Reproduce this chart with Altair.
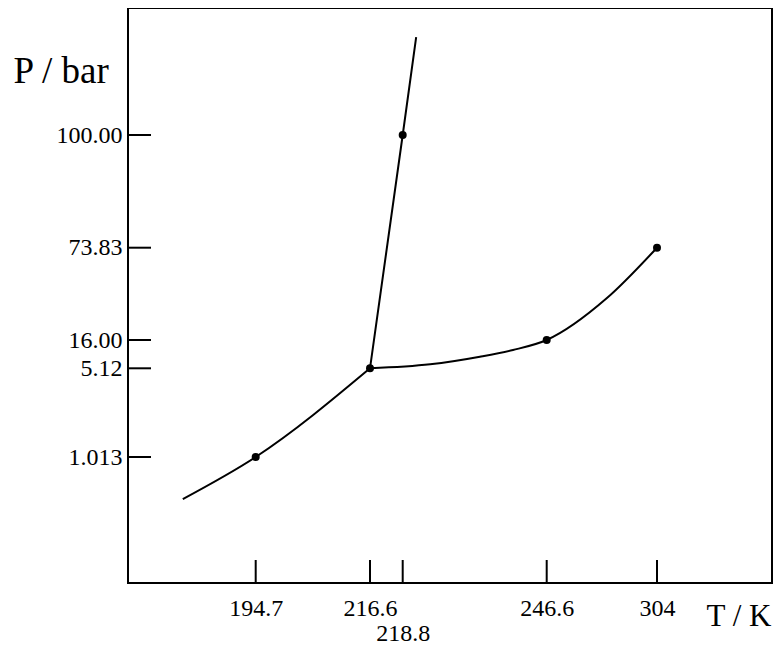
import altair as alt
import pandas as pd

# ---- data (T in K, P in bar) ----
T_ticks = [194.7, 216.6, 218.8, 246.6, 304]
T_tick_labels = ["194.7", "216.6", "218.8", "246.6", "304"]
P_ticks = [1.013, 5.12, 16.00, 73.83, 100.00]
P_tick_labels = ["1.013", "5.12", "16.00", "73.83", "100.00"]

# schematic (piecewise) axes: breakpoints of the drawn scale
T_domain = [170, 194.7, 216.6, 218.8, 246.6, 304, 330]
T_range = [0, 127.7, 242, 274.7, 418.7, 529, 644]
P_domain = [0, 1.013, 5.12, 16, 73.83, 100, 200]
P_range = [575, 449, 360.3, 332, 239.7, 127, 0]

# sublimation curve
sub_T = [180.6, 194.7, 216.6]
sub_P = [0.675, 1.013, 5.12]
# melting curve
melt_T = [216.6, 218.8, 221.4]
melt_P = [5.12, 100.0, 177.0]
# vaporisation curve
vap_T = [216.6, 224.1, 233.7, 240.1, 246.6, 277.8, 304]
vap_P = [5.12, 6.66, 9.58, 12.16, 16.0, 42.1, 73.83]
# marked points
pt_T = [194.7, 216.6, 218.8, 246.6, 304]
pt_P = [1.013, 5.12, 100.0, 16.0, 73.83]

W, H = 644, 575
FONT = "Liberation Serif"

xs = alt.Scale(domain=T_domain, range=T_range, nice=False, zero=False)
ys = alt.Scale(domain=P_domain, range=P_range, nice=False, zero=False)

y_expr = " : ".join(
    [f"datum.value == {v} ? '{l}'" for v, l in zip(P_ticks, P_tick_labels)]
) + " : datum.label"
x_expr = " : ".join(
    [f"datum.value == {v} ? " + (f"['', '{l}']" if l == "218.8" else f"'{l}'")
     for v, l in zip(T_ticks, T_tick_labels)]
) + " : datum.label"

xaxis = alt.Axis(
    values=T_ticks, ticks=False, domain=False, grid=False, tickSize=0,
    labelFont=FONT, labelColor="black",
    labelFontSize=24, labelPadding=32, labelBaseline="alphabetic",
    labelLineHeight=25, labelOverlap=False, labelFlush=False, labelBound=False,
    labelExpr=x_expr,
    title="T / K", titleFont=FONT, titleColor="black", titleFontWeight="normal",
    titleFontSize=31, titleAlign="left", titleBaseline="alphabetic",
    titleX=578, titleY=42, titleAngle=0,
)
yaxis = alt.Axis(
    values=P_ticks, ticks=False, domain=False, grid=False, tickSize=0,
    labelFont=FONT, labelColor="black",
    labelFontSize=24, labelPadding=6, labelBaseline="middle",
    labelOverlap=False, labelFlush=False, labelBound=False,
    labelExpr=y_expr,
    title="P / bar", titleFont=FONT, titleColor="black", titleFontWeight="normal",
    titleFontSize=37, titleAlign="left", titleBaseline="alphabetic",
    titleX=-115, titleY=74, titleAngle=0,
)

X = alt.X("T:Q", scale=xs, axis=xaxis)
Y = alt.Y("P:Q", scale=ys, axis=yaxis)

def curve(ts, ps):
    return pd.DataFrame({"T": ts, "P": ps, "i": range(len(ts))})

sub = alt.Chart(curve(sub_T, sub_P)).mark_line(
    color="black", strokeWidth=2, interpolate="monotone"
).encode(x=X, y=Y, order="i:Q")
melt = alt.Chart(curve(melt_T, melt_P)).mark_line(
    color="black", strokeWidth=2
).encode(x=X, y=Y, order="i:Q")
vap = alt.Chart(curve(vap_T, vap_P)).mark_line(
    color="black", strokeWidth=2, interpolate="monotone"
).encode(x=X, y=Y, order="i:Q")

pts = alt.Chart(pd.DataFrame({"T": pt_T, "P": pt_P})).mark_circle(
    color="black", opacity=1, size=64
).encode(x=X, y=Y)

xt = alt.Chart(pd.DataFrame({"T": T_ticks})).mark_rule(
    color="black", strokeWidth=2
).encode(x=X, y=alt.value(H), y2=alt.value(H - 23))
yt = alt.Chart(pd.DataFrame({"P": P_ticks})).mark_rule(
    color="black", strokeWidth=2
).encode(y=Y, x=alt.value(0), x2=alt.value(23))

chart = alt.layer(xt, yt, sub, melt, vap, pts).properties(
    width=W, height=H,
    background="white",
    autosize=alt.AutoSizeParams(type="none"),
    padding={"left": 120, "top": 0, "right": 1, "bottom": 62},
).configure_view(
    stroke="black", strokeWidth=2
)

chart.save("out.html", embed_options={"renderer": "svg", "actions": False})
